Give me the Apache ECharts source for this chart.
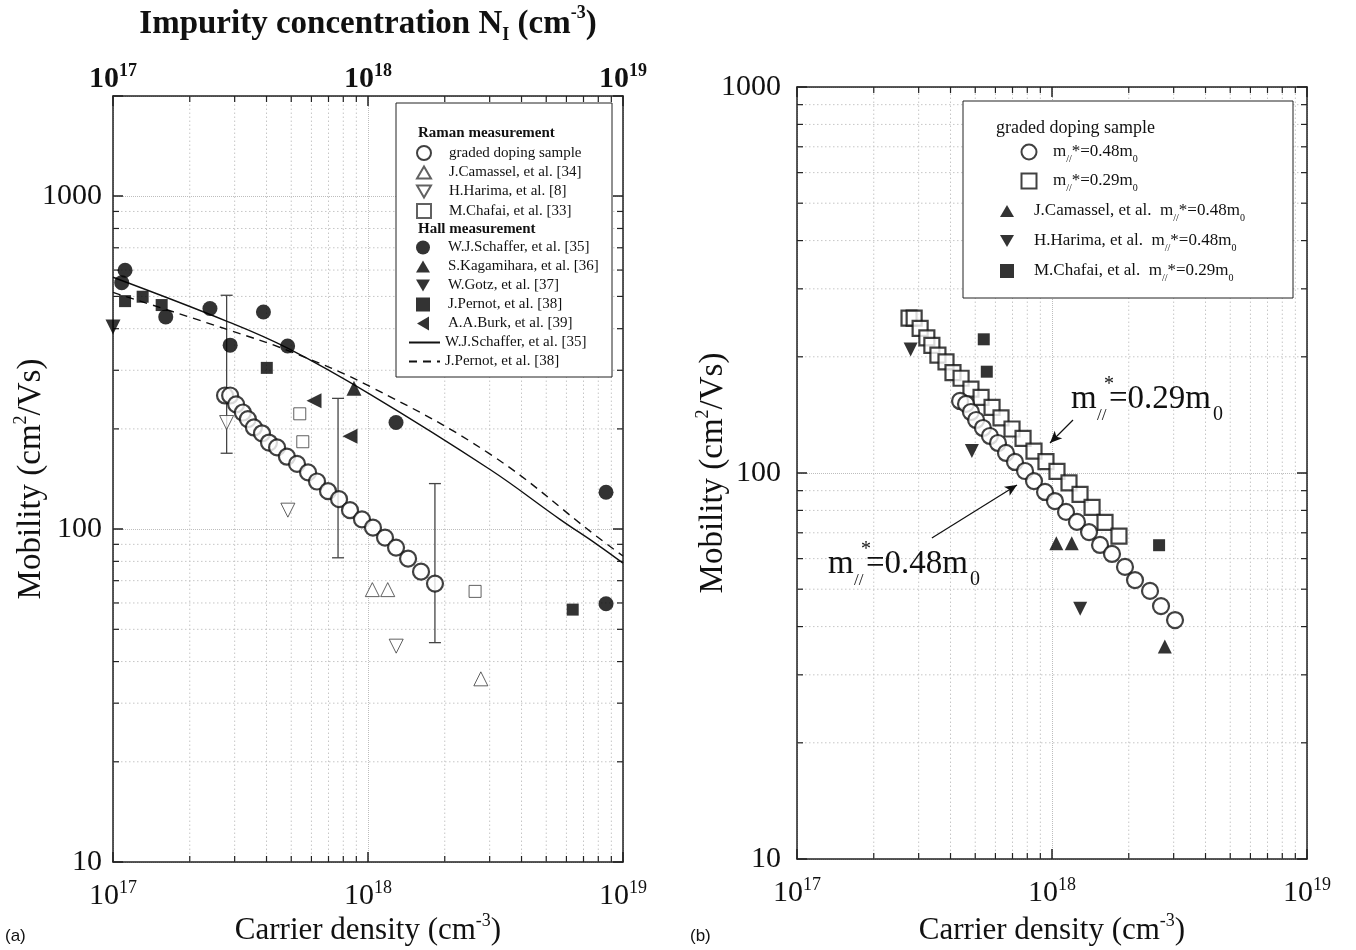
<!DOCTYPE html>
<html><head><meta charset="utf-8">
<script src="https://cdn.jsdelivr.net/npm/echarts@6/dist/echarts.min.js"></script>
<style>html,body{margin:0;padding:0;background:#fff}#c{width:1356px;height:950px}</style>
</head><body><div id="c"></div>
<script>
// ---------------- data ----------------
// panel (a): graded doping sample (Raman)
const gradedN  = [2.75e17,2.88e17,3.04e17,3.23e17,3.38e17,3.57e17,3.84e17,4.09e17,4.40e17,4.81e17,5.27e17,5.82e17,6.31e17,6.97e17,7.70e17,8.50e17,9.47e17,1.046e18,1.166e18,1.288e18,1.436e18,1.614e18,1.831e18];
const gradedMu = [252,252,237,224,214,202,194,182,176,165,157,148,139,130,123,114,107,101,94.3,88,81.5,74.5,68.6];
// panel (b): graded doping sample with m//*=0.48m0
const gradedN48  = [4.36e17,4.60e17,4.81e17,5.04e17,5.36e17,5.71e17,6.14e17,6.60e17,7.16e17,7.84e17,8.50e17,9.39e17,1.027e18,1.135e18,1.253e18,1.397e18,1.543e18,1.719e18,1.933e18,2.116e18,2.423e18,2.676e18,3.037e18];
const gradedMu48 = [153.7,151,143.9,137.2,130.8,124.7,119.6,112.7,106.8,101.2,95.3,89.3,84.6,79.3,74.7,70.3,65.1,61.7,57.1,52.8,49.5,45.2,41.6];
// Raman literature
const camassel = [[1.04e18,65.8],[1.195e18,65.8],[2.77e18,35.5]];
const harima   = [[2.79e17,209],[4.85e17,114],[1.29e18,44.5]];
const chafai   = [[5.4e17,222],[5.55e17,183],[2.63e18,65]];
// Hall literature
const schaffer   = [[1.115e17,599],[1.082e17,550],[1.61e17,434],[2.40e17,460],[2.88e17,357],[3.89e17,449],[4.84e17,355],[1.288e18,209],[8.58e18,129],[8.58e18,59.7]];
const kagamihara = [[8.81e17,265]];
const gotz       = [[1.0e17,405]];
const pernot     = [[1.115e17,484],[1.307e17,499],[1.552e17,471],[4.01e17,305],[6.35e18,57.3]];
const burk       = [[6.14e17,243],[8.5e17,190]];
// model curves
const schafferFit = [[1e17,571],[2.8e17,421],[4.86e17,349],[1.02e18,254],[3.01e18,151],[5.66e18,107],[7.9e18,90],[1e19,79]];
const pernotFit   = [[1e17,514],[2.8e17,398],[4.94e17,342],[1.02e18,268],[3.01e18,168],[7.9e18,95],[1e19,83]];
// error bars of panel (a)
const errN  = [2.79e17, 7.63e17, 1.83e18];
const errLo = [169, 82, 45.6];
const errHi = [504, 247, 137];
// minor tick positions
const xMinor = [2e17,3e17,4e17,5e17,6e17,7e17,8e17,9e17,2e18,3e18,4e18,5e18,6e18,7e18,8e18,9e18];
const yMinorA = [20,30,40,50,60,70,80,90,200,300,400,500,600,700,800,900];
const yMinorB = [20,30,40,50,60,70,80,90,200,300,400,500,600,700,800,900];
// axis ranges
const xRange = [1e17, 1e19];
const yRangeA = [10, 2000];
const yRangeB = [10, 1000];

// ---------------- helpers ----------------
const SERIF = '"Liberation Serif", "Times New Roman", serif';
const INK = '#111';
const zip = (a, b) => a.map((v, i) => [v, b[i]]);
const isPow10 = v => Math.abs(Math.log10(v) - Math.round(Math.log10(v))) < 1e-6;

const expRich = (bold) => ({
  b: {fontSize: 30, fontFamily: SERIF, fontWeight: bold ? 'bold' : 'normal', color: INK, lineHeight: 34},
  s: {fontSize: 18, fontFamily: SERIF, fontWeight: bold ? 'bold' : 'normal', color: INK, lineHeight: 18, verticalAlign: 'top'}
});
const expFmt = v => isPow10(v) ? '{b|10}{s|' + Math.round(Math.log10(v)) + '}' : '';
const plainFmt = v => isPow10(v) ? String(Math.round(v)) : '';

const nameRich = (fs) => ({
  t: {fontSize: fs, fontFamily: SERIF, color: INK, lineHeight: 38},
  p: {fontSize: 18, fontFamily: SERIF, color: INK, lineHeight: 18, verticalAlign: 'top'}
});
const axLine = {show: true, lineStyle: {color: '#222', width: 1.5}};
const tickIn = {show: true, inside: true, length: 10, lineStyle: {color: '#222', width: 1.5}};
const gridLine = {show: true, lineStyle: {type: 'dotted', color: '#bdbdbd', width: 1}};

function xAxisPair(gi, nameGap, top) {
  const bottom = {
    type: 'log', logBase: 10, min: xRange[0], max: xRange[1], gridIndex: gi, position: 'bottom',
    axisLine: axLine, axisTick: tickIn, splitLine: gridLine,
    axisLabel: {formatter: expFmt, rich: expRich(false), margin: 17, showMaxLabel: true},
    name: '{t|Carrier density (cm}{p|-3}{t|)}', nameLocation: 'middle', nameGap: nameGap, nameMoveOverlap: false,
    nameTextStyle: {rich: nameRich(31)}
  };
  const t = {
    type: 'log', logBase: 10, min: xRange[0], max: xRange[1], gridIndex: gi, position: 'top',
    axisLine: axLine, axisTick: tickIn, splitLine: {show: false},
    axisLabel: {show: false}
  };
  if (top) {
    t.axisLabel = {show: true, formatter: expFmt, rich: expRich(true), margin: 0};
    t.name = '{b|Impurity concentration N}{bs|I}{b| (cm}{bp|-3}{b|)}';
    t.nameLocation = 'middle';
    t.nameGap = 52;
    t.nameMoveOverlap = false;
    t.nameTextStyle = {rich: {
      b: {fontSize: 33, fontFamily: SERIF, fontWeight: 'bold', color: INK, lineHeight: 40},
      bs: {fontSize: 18, fontFamily: SERIF, fontWeight: 'bold', color: INK, lineHeight: 18, verticalAlign: 'bottom'},
      bp: {fontSize: 18, fontFamily: SERIF, fontWeight: 'bold', color: INK, lineHeight: 18, verticalAlign: 'top'}
    }};
  }
  return [bottom, t];
}
function yAxisPair(gi, range, margin, nameGap) {
  return [{
    type: 'log', logBase: 10, min: range[0], max: range[1], gridIndex: gi, position: 'left',
    axisLine: axLine, axisTick: tickIn, splitLine: gridLine,
    axisLabel: {formatter: plainFmt, fontSize: 30, fontFamily: SERIF, color: INK, margin: margin},
    name: '{t|Mobility (cm}{p|2}{t|/Vs)}', nameLocation: 'middle', nameGap: nameGap, nameMoveOverlap: false,
    nameTextStyle: {rich: nameRich(33)}
  }, {
    type: 'log', logBase: 10, min: range[0], max: range[1], gridIndex: gi, position: 'right',
    axisLine: axLine, axisTick: tickIn, splitLine: {show: false}, axisLabel: {show: false}
  }];
}

function minorSeries(xi, yi, yr, ymin) {
  const vert = {
    type: 'custom', xAxisIndex: xi, yAxisIndex: yi, silent: true, z: 1,
    data: xMinor.map(v => [v, yr[0]]),
    renderItem: (p, api) => {
      const v = api.value(0);
      const a = api.coord([v, yr[0]]), b = api.coord([v, yr[1]]);
      return {type: 'group', children: [
        {type: 'line', shape: {x1: a[0], y1: a[1], x2: b[0], y2: b[1]}, style: {stroke: '#c6c6c6', lineWidth: 1, lineDash: [1.5, 2.5]}},
        {type: 'line', shape: {x1: a[0], y1: a[1], x2: a[0], y2: a[1] - 6}, style: {stroke: '#222', lineWidth: 1.2}},
        {type: 'line', shape: {x1: b[0], y1: b[1], x2: b[0], y2: b[1] + 6}, style: {stroke: '#222', lineWidth: 1.2}}
      ]};
    }
  };
  const hor = {
    type: 'custom', xAxisIndex: xi, yAxisIndex: yi, silent: true, z: 1,
    data: ymin.map(v => [xRange[0], v]),
    renderItem: (p, api) => {
      const v = api.value(1);
      const a = api.coord([xRange[0], v]), b = api.coord([xRange[1], v]);
      return {type: 'group', children: [
        {type: 'line', shape: {x1: a[0], y1: a[1], x2: b[0], y2: b[1]}, style: {stroke: '#c6c6c6', lineWidth: 1, lineDash: [1.5, 2.5]}},
        {type: 'line', shape: {x1: a[0], y1: a[1], x2: a[0] + 6, y2: a[1]}, style: {stroke: '#222', lineWidth: 1.2}},
        {type: 'line', shape: {x1: b[0], y1: b[1], x2: b[0] - 6, y2: b[1]}, style: {stroke: '#222', lineWidth: 1.2}}
      ]};
    }
  };
  return [vert, hor];
}

const hollow = (w) => ({color: '#fff', borderColor: '#111', borderWidth: w});
const thin = {color: '#fff', borderColor: '#3a3a3a', borderWidth: 1};
const solid = {color: '#000'};
function sc(name, data, symbol, size, itemStyle, rot, xi, yi) {
  return {type: 'scatter', name, data, symbol, symbolSize: size, symbolRotate: rot || 0, symbolKeepAspect: true,
    itemStyle, xAxisIndex: xi, yAxisIndex: yi, z: 3, emphasis: {disabled: true}};
}

const errSeries = {
  type: 'custom', xAxisIndex: 0, yAxisIndex: 0, z: 2, silent: true,
  data: errN.map((n, i) => [n, errLo[i], errHi[i]]),
  encode: {x: 0, y: [1, 2]},
  renderItem: (p, api) => {
    const x = api.value(0);
    const hi = api.coord([x, api.value(2)]), lo = api.coord([x, api.value(1)]);
    const c = 6, st = {stroke: '#444', lineWidth: 1.3};
    return {type: 'group', children: [
      {type: 'line', shape: {x1: hi[0], y1: hi[1], x2: lo[0], y2: lo[1]}, style: st},
      {type: 'line', shape: {x1: hi[0] - c, y1: hi[1], x2: hi[0] + c, y2: hi[1]}, style: st},
      {type: 'line', shape: {x1: lo[0] - c, y1: lo[1], x2: lo[0] + c, y2: lo[1]}, style: st}
    ]};
  }
};

const mRich = name => name.replace(/m\/\/\*=([0-9.]+)m0/, '{t|m}{s|//}{t|*=$1m}{s|0}');
const legRichB = {
  t: {fontSize: 17, fontFamily: SERIF, color: INK, lineHeight: 24},
  s: {fontSize: 10, fontFamily: SERIF, color: INK, lineHeight: 10, verticalAlign: 'bottom'}
};

const N48 = 'm//*=0.48m0', N29 = 'm//*=0.29m0';
const NC = 'J.Camassel, et al.  m//*=0.48m0', NH = 'H.Harima, et al.  m//*=0.48m0', NM = 'M.Chafai, et al.  m//*=0.29m0';
const FIT_S = 'W.J.Schaffer, et al. [35] ', FIT_P = 'J.Pernot, et al. [38] ';

const series = [
  ...minorSeries(0, 0, yRangeA, yMinorA),
  ...minorSeries(2, 2, yRangeB, yMinorB),
  errSeries,
  {type: 'line', name: FIT_S, data: schafferFit, smooth: 0.4, symbol: 'none',
   lineStyle: {color: '#111', width: 1.4}, xAxisIndex: 0, yAxisIndex: 0, z: 2, itemStyle: {color: '#111'}},
  {type: 'line', name: FIT_P, data: pernotFit, smooth: 0.4, symbol: 'none',
   lineStyle: {color: '#111', width: 1.4, type: [8, 6]}, xAxisIndex: 0, yAxisIndex: 0, z: 2, itemStyle: {color: '#111'}},
  sc('J.Camassel, et al. [34]', camassel, 'triangle', 14, thin, 0, 0, 0),
  sc('H.Harima, et al. [8]', harima, 'triangle', 14, thin, 180, 0, 0),
  sc('M.Chafai, et al. [33]', chafai, 'rect', 12, thin, 0, 0, 0),
  sc('W.J.Schaffer, et al. [35]', schaffer, 'circle', 15, solid, 0, 0, 0),
  sc('S.Kagamihara, et al. [36]', kagamihara, 'triangle', 15, solid, 0, 0, 0),
  sc('W.Gotz, et al. [37]', gotz, 'triangle', 15, solid, 180, 0, 0),
  sc('J.Pernot, et al. [38]', pernot, 'rect', 12, solid, 0, 0, 0),
  sc('A.A.Burk, et al. [39]', burk, 'triangle', 15, solid, 90, 0, 0),
  sc('graded doping sample', zip(gradedN, gradedMu), 'circle', 16, hollow(2.2), 0, 0, 0),
  // panel (b)
  sc(N29, zip(gradedN, gradedMu), 'rect', 15, hollow(2.2), 0, 2, 2),
  Object.assign(sc(N48, zip(gradedN48, gradedMu48), 'circle', 16, hollow(2.2), 0, 2, 2), {
    markLine: {silent: true, symbol: ['none', 'arrow'], symbolSize: [8, 12], label: {show: false},
      lineStyle: {color: '#111', width: 1.2, type: 'solid'}, emphasis: {disabled: true},
      data: [
        [{coord: [1.209e18, 137.2]}, {coord: [9.82e17, 119.6]}],
        [{coord: [3.38e17, 67.9]}, {coord: [7.29e17, 93.1]}]
      ]}
  }),
  sc(NC, camassel, 'triangle', 14, solid, 0, 2, 2),
  sc(NH, harima, 'triangle', 14, solid, 180, 2, 2),
  sc(NM, chafai, 'rect', 12, solid, 0, 2, 2)
];

// legend icons
const ICON_DOWN = 'path://M0,0L14,0L7,12Z';
const ICON_UP = 'path://M7,0L14,12L0,12Z';
const ICON_LEFT = 'path://M12,0L12,14L0,7Z';
const ICON_SQ = 'path://M0,0L11,0L11,11L0,11Z';
const symLeg = (left, top, size, gap, textPad, data) => ({
  orient: 'vertical', left, top, itemWidth: size, itemHeight: size, itemGap: gap, padding: 0,
  selectedMode: false, z: 6, data,
  textStyle: {fontFamily: SERIF, fontSize: 15, color: INK, lineHeight: 15, padding: [0, 0, 0, textPad]}
});
const noDot = {opacity: 0, color: 'rgba(0,0,0,0)', borderWidth: 0};
const ic = (name, icon) => ({name, icon});

const txt = (x, y, text, size, extra) => ({type: 'text', x, y, z: 7,
  style: Object.assign({text, fontSize: size, fontFamily: SERIF, fill: INK, verticalAlign: 'middle', align: 'left'}, extra || {})});

const option = {
  backgroundColor: '#fff',
  animation: false,
  grid: [
    {left: 113, top: 96, width: 510, height: 766, outerBoundsMode: 'none', containLabel: false},
    {left: 797, top: 87, width: 510, height: 772, outerBoundsMode: 'none', containLabel: false}
  ],
  xAxis: [...xAxisPair(0, 50, true), ...xAxisPair(1, 53, false)],
  yAxis: [...yAxisPair(0, yRangeA, 11, 63), ...yAxisPair(1, yRangeB, 16, 65)],
  legend: [
    symLeg(416, 145, 14, 4, 13,
      ['graded doping sample', ic('J.Camassel, et al. [34]', ICON_UP), ic('H.Harima, et al. [8]', ICON_DOWN),
       ic('M.Chafai, et al. [33]', ICON_SQ)]),
    symLeg(416, 240, 14, 4, 13,
      ['W.J.Schaffer, et al. [35]', ic('S.Kagamihara, et al. [36]', ICON_UP), ic('W.Gotz, et al. [37]', ICON_DOWN),
       ic('J.Pernot, et al. [38]', ICON_SQ), ic('A.A.Burk, et al. [39]', ICON_LEFT)]),
    {orient: 'vertical', left: 408, top: 335, itemWidth: 31, itemHeight: 14, itemGap: 4, padding: 0,
      selectedMode: false, z: 6,
      data: [{name: FIT_S, itemStyle: noDot}, {name: FIT_P, itemStyle: noDot}],
      textStyle: {fontFamily: SERIF, fontSize: 15, color: INK, lineHeight: 15}},
    {orient: 'vertical', left: 1020.5, top: 140, itemWidth: 15, itemHeight: 15, itemGap: 5, padding: 0,
      selectedMode: false, z: 6, data: [N48, N29], formatter: mRich,
      textStyle: {fontFamily: SERIF, fontSize: 17, color: INK, lineHeight: 24, rich: legRichB, padding: [0, 0, 0, 11.5]}},
    {orient: 'vertical', left: 1000, top: 199, itemWidth: 14, itemHeight: 14, itemGap: 6, padding: 0,
      selectedMode: false, z: 6, data: [ic(NC, ICON_UP), ic(NH, ICON_DOWN), ic(NM, ICON_SQ)], formatter: mRich,
      textStyle: {fontFamily: SERIF, fontSize: 17, color: INK, lineHeight: 24, rich: legRichB, padding: [0, 0, 0, 15]}}
  ],
  graphic: [
    {type: 'rect', z: 5, shape: {x: 396, y: 103, width: 216, height: 274}, style: {fill: '#fff', stroke: '#222', lineWidth: 1}},
    txt(418, 133, 'Raman measurement', 15, {fontWeight: 'bold'}),
    txt(418, 229, 'Hall measurement', 15, {fontWeight: 'bold'}),
    {type: 'rect', z: 5, shape: {x: 963, y: 101, width: 330, height: 197}, style: {fill: '#fff', stroke: '#222', lineWidth: 1}},
    txt(996, 128, 'graded doping sample', 18),
    // annotation m//*=0.29m0
    txt(1071, 399, 'm', 33), txt(1097, 416, '//', 17), txt(1104, 385, '*', 20),
    txt(1109, 399, '=0.29m', 33), txt(1213, 415, '0', 20),
    // annotation m//*=0.48m0
    txt(828, 564, 'm', 33), txt(854, 581, '//', 17), txt(861, 550, '*', 20),
    txt(866, 564, '=0.48m', 33), txt(970, 580, '0', 20),
    txt(5, 936, '(a)', 17, {fontFamily: '"Liberation Sans", Arial, sans-serif'}),
    txt(690, 936, '(b)', 17, {fontFamily: '"Liberation Sans", Arial, sans-serif'})
  ],
  series
};

const chart = echarts.init(document.getElementById('c'), null, {renderer: 'canvas'});
chart.setOption(option);
</script>
</body></html>
